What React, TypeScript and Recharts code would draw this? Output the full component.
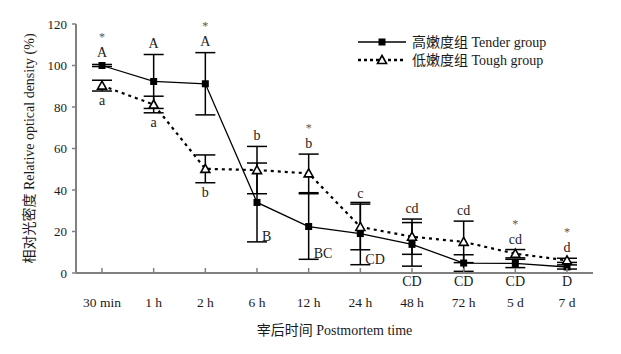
import {
  ComposedChart,
  Line,
  XAxis,
  YAxis,
  ErrorBar,
  ReferenceDot,
} from 'recharts'

const times = ['30 min', '1 h', '2 h', '6 h', '12 h', '24 h', '48 h', '72 h', '5 d', '7 d']
const tender = [100, 92.3, 91.2, 34, 22.4, 19, 13.8, 4.8, 4.6, 2.9]
const tenderSd = [0.5, 13, 15, 19, 15.8, 15, 10.5, 4, 2, 1]
const tough = [90.3, 81.2, 50.2, 49.6, 48, 22.2, 17.5, 15, 9.3, 6.1]
const toughSd = [2.6, 4, 6.7, 11.4, 9.3, 11, 8.5, 10, 2, 1]
const tenderLetters = ['A', 'A', 'A', 'B', 'BC', 'CD', 'CD', 'CD', 'CD', 'D']
const toughLetters = ['a', 'a', 'b', 'b', 'b', 'c', 'cd', 'cd', 'cd', 'd']
// where each letter sits: over the bar, under it, beside it, or under the axis
const tenderPlace = ['top', 'top', 'top', 'right', 'right', 'right', 'axis', 'axis', 'axis', 'axis']
const toughPlace = ['bottom', 'bottom', 'bottom', 'top', 'top', 'top', 'top', 'top', 'top', 'top']
const tenderStar = [true, false, true, false, false, false, false, false, false, false]
const toughStar = [false, false, false, false, true, false, false, false, true, true]
const yTicks = [0, 20, 40, 60, 80, 100, 120]

const FONT = "'Liberation Serif', 'Noto Sans CJK SC', serif"
const INK = '#1a1a1a'
const AXIS = '#808080'

const data = times.map((t, i) => ({
  time: t,
  tender: tender[i],
  tenderSd: tenderSd[i],
  tough: tough[i],
  toughSd: toughSd[i],
}))

function SquareDot({ cx, cy }: { cx?: number; cy?: number }) {
  if (cx == null || cy == null) return null
  return <rect x={cx - 3.5} y={cy - 3.5} width={7} height={7} fill="#000" />
}

function TriangleDot({ cx, cy }: { cx?: number; cy?: number }) {
  if (cx == null || cy == null) return null
  return (
    <path
      d={`M${cx},${cy - 4.5} L${cx + 4.5},${cy + 3.5} L${cx - 4.5},${cy + 3.5} Z`}
      fill="#fff"
      stroke="#000"
      strokeWidth={1.6}
    />
  )
}

function XTick({ x, y, payload }: { x?: number; y?: number; payload?: { value: string } }) {
  if (x == null || y == null) return null
  return (
    <g>
      <line x1={x} y1={y - 1} x2={x} y2={y - 5} stroke={AXIS} strokeWidth={1.5} />
      <text x={x} y={y + 34} textAnchor="middle" fontSize={13.5} fontFamily={FONT} fill={INK}>
        {payload?.value}
      </text>
    </g>
  )
}

// text placed relative to a point given in data units (so it goes through the chart scales)
function makeLabel(text: string, dx: number, dy: number, anchor: 'start' | 'middle' = 'middle', star = false) {
  return {
    content: (props: any) => {
      const vb = props.viewBox || {}
      const x = (vb.x ?? 0) + (vb.width ?? 0) / 2 + dx
      const y = (vb.y ?? 0) + (vb.height ?? 0) / 2 + dy
      return (
        <g>
          {star && (
            <text x={x} y={y - 16} textAnchor={anchor} fontSize={12} fontFamily={FONT} fill="#555">
              *
            </text>
          )}
          <text x={x} y={y} textAnchor={anchor} fontSize={14} fontFamily={FONT} fill={INK}>
            {text}
          </text>
        </g>
      )
    },
  }
}

function annotations() {
  const out: any[] = []
  times.forEach((t, i) => {
    const tp = tenderPlace[i]
    if (tp === 'top') {
      out.push(
        <ReferenceDot key={'T' + i} x={t} y={tender[i] + tenderSd[i]} r={0} stroke="none" fill="none"
          label={makeLabel(tenderLetters[i], 0, -7, 'middle', tenderStar[i])} />
      )
    } else if (tp === 'right') {
      out.push(
        <ReferenceDot key={'T' + i} x={t} y={tender[i] - tenderSd[i]} r={0} stroke="none" fill="none"
          label={makeLabel(tenderLetters[i], 5, -1, 'start')} />
      )
    } else {
      out.push(
        <ReferenceDot key={'T' + i} x={t} y={0} r={0} stroke="none" fill="none"
          label={makeLabel(tenderLetters[i], 0, 13)} />
      )
    }
    const gp = toughPlace[i]
    if (gp === 'top') {
      out.push(
        <ReferenceDot key={'G' + i} x={t} y={tough[i] + toughSd[i]} r={0} stroke="none" fill="none"
          label={makeLabel(toughLetters[i], 0, -6, 'middle', toughStar[i])} />
      )
    } else {
      out.push(
        <ReferenceDot key={'G' + i} x={t} y={tough[i] - toughSd[i]} r={0} stroke="none" fill="none"
          label={makeLabel(toughLetters[i], 0, 14)} />
      )
    }
  })
  return out
}

function LegendBox() {
  const rows = [
    { name: '高嫩度组 Tender group', dash: undefined, marker: 'square' },
    { name: '低嫩度组 Tough group', dash: '3 3', marker: 'triangle' },
  ]
  return (
    <svg width={210} height={40} style={{ position: 'absolute', left: 358, top: 34, overflow: 'visible' }}>
      {rows.map((r, i) => {
        const y = 8 + i * 18
        return (
          <g key={r.name}>
            <line x1={0} y1={y} x2={48} y2={y} stroke="#000" strokeWidth={r.dash ? 2.5 : 1.3} strokeDasharray={r.dash} />
            {r.marker === 'square' ? <SquareDot cx={24} cy={y} /> : <TriangleDot cx={24} cy={y} />}
            <text x={54} y={y + 5} fontSize={14} fontFamily={FONT} fill={INK}>
              {r.name}
            </text>
          </g>
        )
      })}
    </svg>
  )
}

export default function App() {
  return (
    <div style={{ position: 'absolute', left: 0, top: 0, width: 621, height: 354 }}>
      <ComposedChart
        width={621}
        height={354}
        data={data}
        margin={{ top: 24, right: 28, bottom: 0, left: 0 }}
        style={{ fontFamily: FONT }}
      >
        <XAxis
          dataKey="time"
          height={81}
          padding={{ left: 26, right: 26 }}
          tickLine={false}
          tickSize={0}
          tickMargin={0}
          tick={<XTick />}
          axisLine={{ stroke: AXIS, strokeWidth: 2 }}
          interval={0}
          label={{
            content: (props: any) => {
              const vb = props.viewBox
              return (
                <text x={vb.x + vb.width / 2} y={vb.y + 62} textAnchor="middle" fontSize={14} fontFamily={FONT} fill={INK}>
                  宰后时间 Postmortem time
                </text>
              )
            },
          }}
        />
        <YAxis
          width={76}
          domain={[0, 120]}
          ticks={yTicks}
          tickSize={4}
          tickMargin={5}
          tickLine={{ stroke: AXIS, strokeWidth: 1.5 }}
          axisLine={{ stroke: AXIS, strokeWidth: 2 }}
          tick={{ fontSize: 13, fill: INK, fontFamily: FONT }}
          label={{
            content: (props: any) => {
              const vb = props.viewBox
              const cx = 29
              const cy = vb.y + vb.height / 2
              return (
                <text x={cx} y={cy} transform={`rotate(-90 ${cx} ${cy})`} textAnchor="middle" dominantBaseline="central" fontSize={14} fontFamily={FONT} fill={INK}>
                  相对光密度 Relative optical density (%)
                </text>
              )
            },
          }}
        />
        <Line
          dataKey="tough"
          name="低嫩度组 Tough group"
          stroke="#000"
          strokeWidth={2.2}
          strokeDasharray="3 4"
          dot={<TriangleDot />}
          activeDot={false}
          isAnimationActive={false}
        >
          <ErrorBar dataKey="toughSd" width={10} stroke="#000" strokeWidth={1.5} />
        </Line>
        <Line
          dataKey="tender"
          name="高嫩度组 Tender group"
          stroke="#000"
          strokeWidth={1.3}
          dot={<SquareDot />}
          activeDot={false}
          isAnimationActive={false}
        >
          <ErrorBar dataKey="tenderSd" width={10} stroke="#000" strokeWidth={1.5} />
        </Line>
        {annotations()}
      </ComposedChart>
      <LegendBox />
    </div>
  )
}
